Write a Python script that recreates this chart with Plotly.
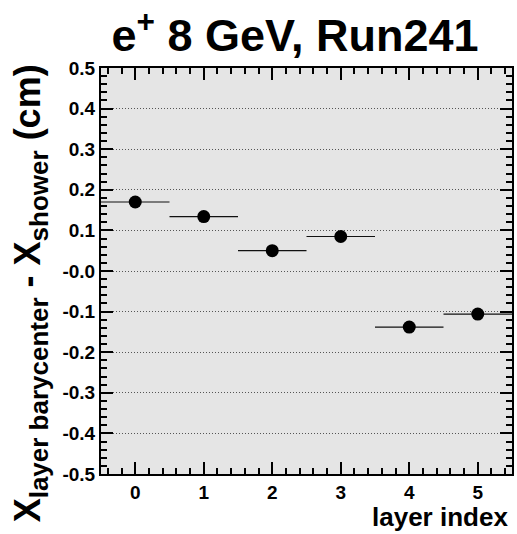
import plotly.graph_objects as go

# layer index vs mean x offset of the layer barycenter from the shower axis
layers = [0, 1, 2, 3, 4, 5]
x_offset = [0.170, 0.134, 0.050, 0.085, -0.138, -0.106]
x_half_width = [0.5, 0.5, 0.5, 0.5, 0.5, 0.5]

y_tickvals = [0.5, 0.4, 0.3, 0.2, 0.1, 0.0, -0.1, -0.2, -0.3, -0.4, -0.5]
y_ticktext = ["0.5", "0.4", "0.3", "0.2", "0.1", "-0.0", "-0.1", "-0.2", "-0.3", "-0.4", "-0.5"]

FONT = "Liberation Sans, Arial, sans-serif"

W, H = 517, 534
L, R, T, B = 101, 3, 68, 60
plot_w = W - L - R
plot_h = H - T - B

fig = go.Figure()
fig.add_trace(go.Scatter(
    x=layers,
    y=x_offset,
    mode="markers",
    marker=dict(color="black", size=13),
    error_x=dict(type="data", array=x_half_width, width=0, thickness=1.2, color="#111111"),
    showlegend=False,
))

axis_common = dict(
    showline=True,
    linecolor="black",
    linewidth=2,
    mirror="allticks",
    ticks="inside",
    tickcolor="black",
    tickwidth=1.5,
    zeroline=False,
    tickfont=dict(family=FONT, size=19, color="black", weight="bold"),
)

fig.update_xaxes(
    range=[-0.5, 5.5],
    tickvals=layers,
    ticklen=12,
    showgrid=False,
    minor=dict(dtick=0.2, tick0=0, ticklen=6, ticks="inside", tickcolor="black", showgrid=False),
    **axis_common,
)
fig.update_yaxes(
    range=[-0.5, 0.5],
    tickmode="array",
    tickvals=y_tickvals,
    ticktext=y_ticktext,
    ticklen=12,
    showgrid=True,
    gridcolor="#555555",
    griddash="1px,2px",
    gridwidth=1,
    minor=dict(dtick=0.02, tick0=0, ticklen=6, ticks="inside", tickcolor="black", showgrid=False),
    **axis_common,
)

fig.update_layout(
    width=W,
    height=H,
    paper_bgcolor="white",
    plot_bgcolor="#e5e5e5",
    margin=dict(l=L, r=R, t=T, b=B),
    title=dict(
        text="e<sup>+</sup> 8 GeV, Run241",
        font=dict(family=FONT, size=45, color="black", weight="bold"),
        x=295 / W,
        xanchor="center",
        y=1 - 35 / H,
        yanchor="middle",
    ),
)

# axis titles, placed like the ROOT canvas: x title right-aligned, y title top-aligned
fig.add_annotation(
    text="layer index",
    xref="paper", yref="paper",
    x=(512 - L) / plot_w, xanchor="right",
    y=-(517 - (H - B)) / plot_h, yanchor="middle",
    showarrow=False,
    font=dict(family=FONT, size=26, color="black", weight="bold"),
)
fig.add_annotation(
    text=("X<sub><span style='font-size:26px'>layer barycenter</span></sub> - "
          "X<sub><span style='font-size:26px'>shower</span></sub> (cm)"),
    xref="paper", yref="paper",
    x=(31 - L) / plot_w, xanchor="center",
    y=1 + (T - 62) / plot_h, yanchor="top",
    textangle=-90,
    showarrow=False,
    font=dict(family=FONT, size=36, color="black", weight="bold"),
)

# drop the default 8px body margin so the figure sits at the window's corner
fig.write_html(
    "out.html",
    config={"displayModeBar": False},
    post_script="document.body.style.margin='0';",
)
